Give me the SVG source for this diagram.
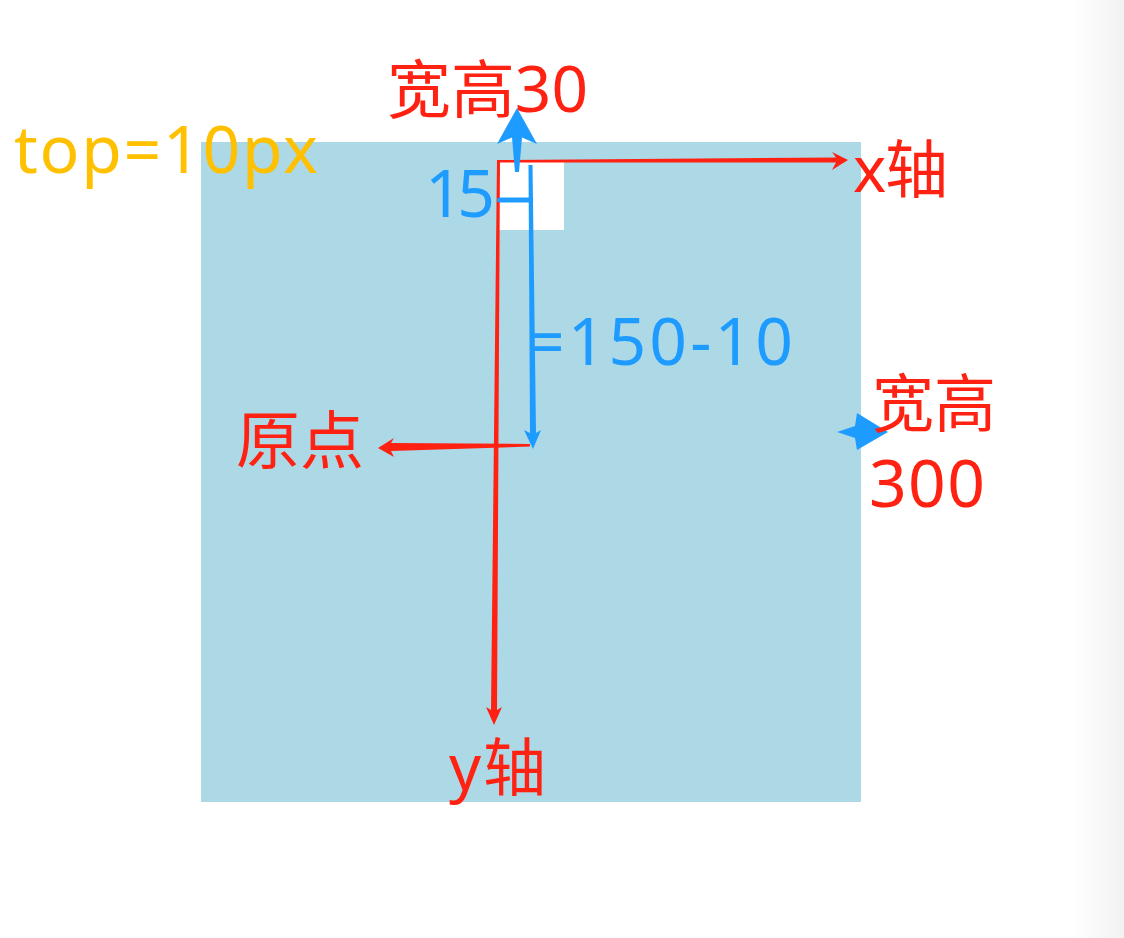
<svg xmlns="http://www.w3.org/2000/svg" width="1124" height="938" viewBox="0 0 1124 938">
<defs>
<linearGradient id="edge" x1="0" y1="0" x2="1" y2="0">
<stop offset="0" stop-color="#ffffff"/>
<stop offset="1" stop-color="#f2f2f2"/>
</linearGradient>
<style>
text{font-family:"Noto Sans","Noto Sans CJK SC",sans-serif;font-size:63px}
.lat{font-size:66px}
.red{fill:#ff2111}
.blue{fill:#1e9bff}
.orange{fill:#ffc000}
</style>
</defs>
<rect x="0" y="0" width="1124" height="938" fill="#ffffff"/>
<rect x="1070" y="0" width="54" height="938" fill="url(#edge)"/>
<g id="canvas">
<rect x="201" y="142" width="660" height="660" fill="#add8e6"/>
</g>
<g id="box">
<rect x="497" y="161" width="67" height="69" fill="#ffffff"/>
</g>
<g id="connectors">
<path class="red" d="M497,160 L500,160 L497,710 L502,707 L494,725 L486,707 L491,710 Z"/>
<path class="red" d="M498,160 L498,162.5 L836,162.5 L832,170 L848,160 L832,152 L836,157.5 Z"/>
<path class="blue" d="M517,108 L537,144 L522,137.5 L519,172 L515,172 L512,137.5 L497,144 Z"/>
<path class="blue" d="M528.5,165 L532.5,165 L536,433 L541,430 L533,449 L524,430 L530,433 Z"/>
<rect class="blue" x="497" y="197.5" width="36" height="5" rx="2.5"/>
<path class="red" d="M378,448 L394,438 L391,443 L530,444 L530,446.5 L391,451 L394,457 Z"/>
<path class="blue" d="M837,432 L855,426 L857,413 L888,432 L857,450 L855,438 Z"/>
</g>
<g id="labels">
<text class="red" x="387" y="112" textLength="201" lengthAdjust="spacingAndGlyphs">宽高30</text>
<text class="orange lat" x="14" y="173" textLength="304" lengthAdjust="spacing">top=10px</text>
<text class="blue lat" x="425" y="217" textLength="70" lengthAdjust="spacing">15</text>
<text class="blue lat" x="527" y="365" textLength="266" lengthAdjust="spacing">=150-10</text>
<text class="red" x="853" y="192" textLength="95" lengthAdjust="spacing">x轴</text>
<text class="red" x="236" y="463" textLength="128" lengthAdjust="spacingAndGlyphs">原点</text>
<text class="red" x="872" y="426" textLength="124" lengthAdjust="spacingAndGlyphs">宽高</text>
<text class="red lat" x="869" y="507" textLength="116" lengthAdjust="spacing">300</text>
<text class="red" x="449" y="790" textLength="97" lengthAdjust="spacing">y轴</text>
</g>
</svg>
